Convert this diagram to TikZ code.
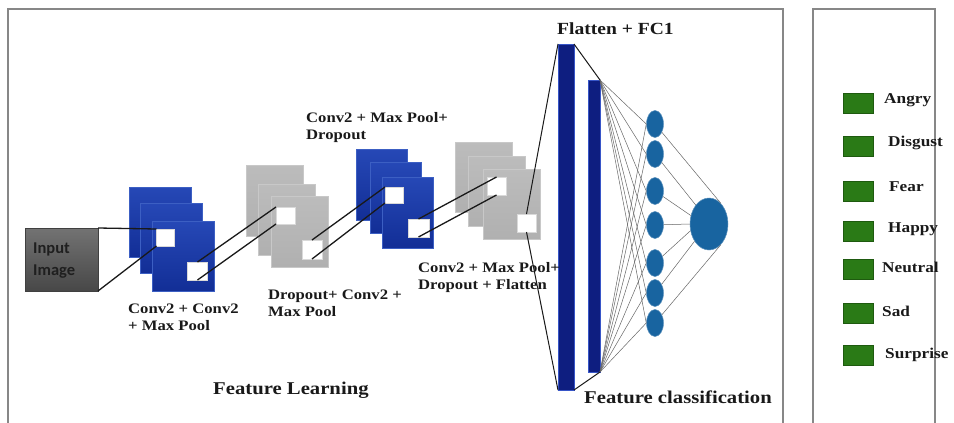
\documentclass[tikz,border=0pt]{standalone}
\usepackage{fontspec}
\setmainfont{Liberation Serif}
\newfontfamily\lab[FakeStretch=1.15]{Liberation Serif}
\newfontfamily\calib{Carlito}
\usetikzlibrary{shapes.geometric}
\definecolor{blueT}{RGB}{38,72,182}
\definecolor{blueB}{RGB}{18,46,150}
\definecolor{blueE}{RGB}{60,95,195}
\definecolor{greyF}{RGB}{176,176,176}
\definecolor{greyE}{RGB}{200,200,200}
\definecolor{navy}{RGB}{14,30,128}
\definecolor{navyE}{RGB}{55,85,200}
\definecolor{neuron}{RGB}{24,100,160}
\definecolor{leaf}{RGB}{42,122,22}
\definecolor{leafE}{RGB}{30,90,15}
\definecolor{frame}{RGB}{135,135,135}
\definecolor{ink}{RGB}{25,25,25}
\begin{document}
\begin{tikzpicture}[x=1pt,y=-1pt,
  box/.style={rectangle, inner sep=0pt, outer sep=0pt},
  bluesq/.style={box, minimum width=62pt, minimum height=70pt, top color=blueT, bottom color=blueB, draw=blueE, line width=0.6pt},
  bluesqb/.style={bluesq, minimum width=51pt, minimum height=71pt},
  greysq/.style={box, minimum width=57pt, minimum height=71pt, top color=greyF!85!white, bottom color=greyF, draw=greyE, line width=0.8pt},
  hole/.style={box, fill=white, draw=white!85!black, line width=0.4pt},
  conn/.style={draw=ink, line width=1.3pt},
  fan/.style={draw=black!60, line width=0.5pt},
  bar/.style={box, fill=navy, draw=navyE, line width=0.8pt},
  neu/.style={ellipse, fill=neuron, draw=neuron!70!white, line width=0.5pt, inner sep=0pt, minimum width=17pt, minimum height=27pt},
  lbl/.style={inner sep=0pt, align=left, anchor=north west, text=ink, font=\lab\bfseries\fontsize{14.5}{17}\selectfont},
  big/.style={inner sep=0pt, anchor=west, text=ink, font=\lab\bfseries\fontsize{18}{20}\selectfont},
  emo/.style={box, minimum width=30pt, minimum height=20pt, fill=leaf, draw=leafE, line width=0.6pt},
  emotxt/.style={inner sep=0pt, anchor=west, text=ink, font=\lab\bfseries\fontsize{15}{17}\selectfont},
  frm/.style={draw=frame, line width=1.4pt}
]
\useasboundingbox (0,0) rectangle (954,423);
% frames
\draw[frm] (8,424) -- (8,9) -- (783,9) -- (783,424);
\draw[frm] (813,424) -- (813,9) -- (935,9) -- (935,424);

% input image
\node[box, minimum width=73pt, minimum height=63pt, top color=black!55, bottom color=black!72, draw=black!75, line width=0.6pt] (in) at (61.5,259.5) {};
\node[inner sep=0pt, anchor=north west, align=left, text=black!88, font=\calib\bfseries\fontsize{16.5}{22}\selectfont] (intxt) at (33,243) {Input\\Image};

% blue stack 1
\node[bluesq] (b1a) at (160,222) {};
\node[bluesq] (b1b) at (171,238) {};
\node[bluesq] (b1c) at (183,256) {};
\node[hole, minimum width=18pt, minimum height=17pt] (s1) at (165.5,237.5) {};
\node[hole, minimum width=20pt, minimum height=18pt] (s2) at (197.5,271) {};

% grey stack 1
\node[greysq] (g1a) at (275,201) {};
\node[greysq] (g1b) at (286.5,220) {};
\node[greysq] (g1c) at (299.5,231.5) {};
\node[hole, minimum width=19pt, minimum height=17pt] (g1) at (285.5,215.5) {};
\node[hole, minimum width=20pt, minimum height=19pt] (g2) at (312,249.5) {};

% blue stack 2
\node[bluesqb] (b2a) at (382,185) {};
\node[bluesqb] (b2b) at (396,197.5) {};
\node[bluesqb] (b2c) at (407.5,212.5) {};
\node[hole, minimum width=18pt, minimum height=16pt] (bs1) at (394,195) {};
\node[hole, minimum width=21pt, minimum height=18pt] (bs2) at (418.5,228) {};

% grey stack 2
\node[greysq, minimum height=70pt] (g2a) at (484,177.5) {};
\node[greysq, minimum height=70pt] (g2b) at (496.5,191.5) {};
\node[greysq, minimum height=70pt] (g2c) at (511.5,204) {};
\node[hole, minimum width=19pt, minimum height=18pt] (gs1) at (496.5,186) {};
\node[hole, minimum width=19pt, minimum height=18pt] (gs2) at (526.5,223) {};

% bars
\node[bar, minimum width=16pt, minimum height=346pt] (bar1) at (566,217) {};
\node[bar, minimum width=12pt, minimum height=292pt] (bar2) at (594,226) {};

% neurons
\foreach \i/\y in {1/124,2/154,3/191,4/225,5/263,6/293,7/323}
  \node[neu] (c\i) at (655,\y) {};
\node[neu, minimum width=38pt, minimum height=52pt] (out) at (709,224) {};

% connectors
\draw[conn] (in.north east) -- (s1.north west);
\draw[conn] (in.south east) -- (s1.south west);
\draw[conn] (s2.north) -- (g1.north west);
\draw[conn] (s2.south) -- (g1.south west);
\draw[conn] (g2.north) -- (bs1.north west);
\draw[conn] (g2.south) -- (bs1.south west);
\draw[conn] (bs2.north) -- (gs1.north);
\draw[conn] (bs2.south) -- (gs1.south);
\draw[draw=ink, line width=1pt] (bar1.north west) -- (gs2.north);
\draw[draw=ink, line width=1pt] (bar1.south west) -- (gs2.south);
\draw[draw=ink, line width=1pt] (bar1.north east) -- (bar2.north east);
\draw[draw=ink, line width=1pt] (bar1.south east) -- (bar2.south east);

\foreach \i in {1,...,7} {
  \draw[fan] (bar2.north east) -- (c\i.west);
  \draw[fan] (bar2.south east) -- (c\i.west);
}
\draw[fan] (c1) -- (out.60);
\draw[fan] (c2) -- (out.125);
\draw[fan] (c3) -- (out.155);
\draw[fan] (c4) -- (out.west);
\draw[fan] (c5) -- (out.200);
\draw[fan] (c6) -- (out.230);
\draw[fan] (c7) -- (out.-60);

% labels
\node[lbl] (l1) at (128,304) {Conv2 + Conv2\\+ Max Pool};
\node[lbl] (l2) at (268,290) {Dropout+ Conv2 +\\Max Pool};
\node[lbl] (l3) at (306,112) {Conv2 + Max Pool+\\Dropout};
\node[lbl] (l4) at (418,262) {Conv2 + Max Pool+\\Dropout + Flatten};
\node[big] (fl) at (213,390) {Feature Learning};
\node[big, font=\lab\bfseries\fontsize{17}{20}\selectfont] (fc) at (557,29) {Flatten + FC1};
\node[big] (fcl) at (584,397) {Feature classification};

% legend
\foreach \n/\y/\tx/\ty/\t in {e1/103/884/100/Angry, e2/146/888/143/Disgust, e3/191/889/187/Fear, e4/231/888/229/Happy, e5/269/882/267/Neutral, e6/313/882/311/Sad, e7/355/885/355/Surprise} {
  \node[emo] (\n) at (858,\y) {};
  \node[emotxt] (\n t) at (\tx,\ty) {\t};
}
\end{tikzpicture}
\end{document}
